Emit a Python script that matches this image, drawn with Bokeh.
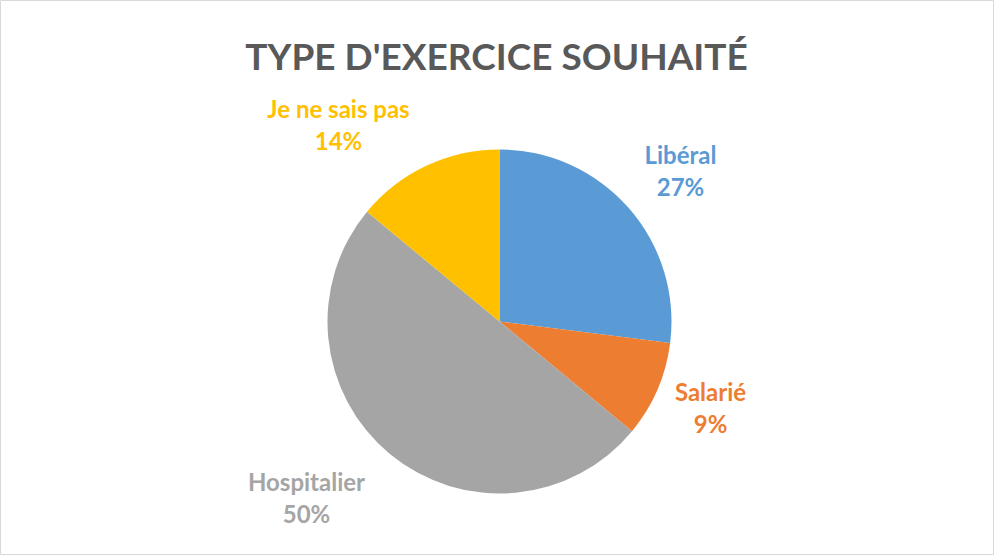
import numpy as np
from bokeh.plotting import figure
from bokeh.models import ColumnDataSource, Range1d
from bokeh.core.properties import value
from bokeh.embed import file_html
from bokeh.resources import INLINE

# ---- data ----
categories = ["Libéral", "Salarié", "Hospitalier", "Je ne sais pas"]
shares = [27, 9, 50, 14]
pct_labels = ["27%", "9%", "50%", "14%"]
colors = ["#5B9BD5", "#ED7D31", "#A5A5A5", "#FFC000"]
title_text = "TYPE D'EXERCICE SOUHAITÉ"

# ---- layout (page pixel coords, converted to y-up) ----
W, H = 994, 555
cx, cy, R = 499, H - 321, 172
label_xy = [(680, H - 154), (710, H - 391), (306, H - 481), (338, H - 108)]
line_gap = 32

vals = np.array(shares, dtype=float)
frac = vals / vals.sum()
cum = np.concatenate([[0], np.cumsum(frac)])
start = np.pi / 2 - cum[:-1] * 2 * np.pi
end = np.pi / 2 - cum[1:] * 2 * np.pi

p = figure(width=W, height=H, output_backend="svg", toolbar_location=None,
           x_range=Range1d(0, W), y_range=Range1d(0, H), min_border=0)
p.axis.visible = False
p.grid.visible = False
p.outline_line_color = "#D9D9D9"
p.outline_line_width = 1
p.background_fill_color = "white"
p.border_fill_color = "white"

src = ColumnDataSource(dict(start=start, end=end, color=colors))
p.wedge(x=cx, y=cy, radius=R, start_angle="start", end_angle="end",
        direction="clock", fill_color="color", line_color=None, source=src)

p.text(x=[496], y=[H - 55], text=[title_text], text_font=value("Lato"),
       text_font_style="bold", text_font_size="37px", text_color="#595959",
       text_align="center", text_baseline="middle")

lx = [xy[0] for xy in label_xy]
ly = [xy[1] for xy in label_xy]
src_l = ColumnDataSource(dict(x=lx, y1=ly, y2=[y - line_gap for y in ly],
                              name=categories, pct=pct_labels, color=colors))
for col, ycol in (("name", "y1"), ("pct", "y2")):
    p.text(x="x", y=ycol, text=col, source=src_l, text_font=value("Lato"),
           text_font_style="bold", text_font_size="24px", text_color="color",
           text_align="center", text_baseline="middle")

open("out.html", "w").write(file_html(p, INLINE))
